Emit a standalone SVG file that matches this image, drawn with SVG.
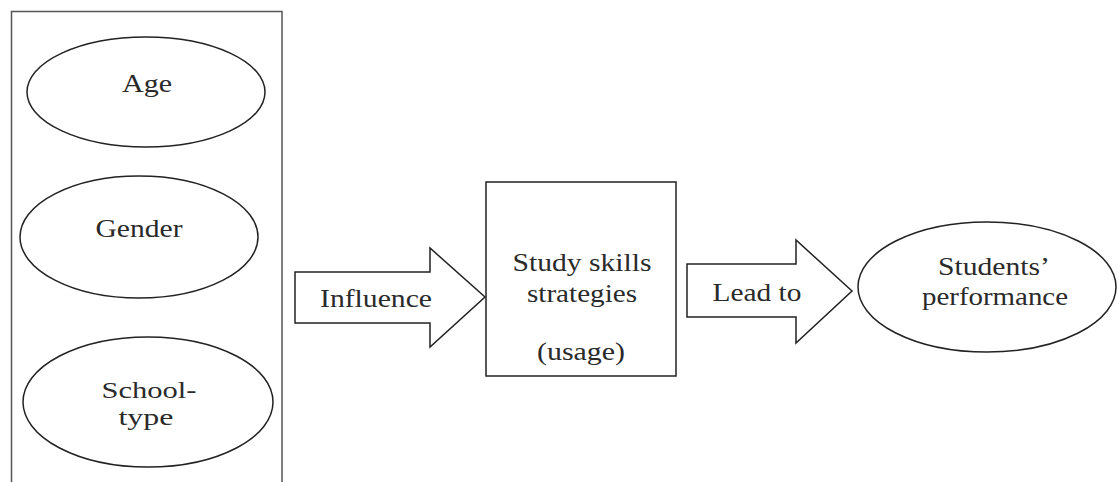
<svg xmlns="http://www.w3.org/2000/svg" width="1118" height="482" viewBox="0 0 1118 482">
<style>
.s{fill:#fff;stroke:#222;stroke-width:1.5}
.f{fill:none;stroke:#555;stroke-width:1.5}
text{font-family:"Liberation Serif","Times New Roman",serif;font-size:25px;fill:#2a2a2a;text-anchor:middle}
.sm{font-size:23px}
</style>
<rect width="1118" height="482" fill="#fff"/>
<g id="frame"><path class="f" d="M11.5,490 V11.5 H282 V490"/></g>
<g id="age"><ellipse class="s" cx="146" cy="92" rx="119" ry="55"/><text x="147" y="92" textLength="50" lengthAdjust="spacingAndGlyphs">Age</text></g>
<g id="gender"><ellipse class="s" cx="139" cy="237" rx="119" ry="61"/><text x="139" y="237" textLength="87" lengthAdjust="spacingAndGlyphs">Gender</text></g>
<g id="school"><ellipse class="s" cx="148" cy="402" rx="125" ry="65"/><text class="sm" x="149" y="398" textLength="95" lengthAdjust="spacingAndGlyphs">School-</text><text class="sm" x="146" y="425" textLength="55" lengthAdjust="spacingAndGlyphs">type</text></g>
<g id="study"><rect class="s" x="486" y="182" width="190" height="194"/><text x="582" y="271" textLength="139" lengthAdjust="spacingAndGlyphs">Study skills</text><text x="582" y="302" textLength="110" lengthAdjust="spacingAndGlyphs">strategies</text><text x="581" y="360" textLength="88" lengthAdjust="spacingAndGlyphs">(usage)</text></g>
<g id="perf"><ellipse class="s" cx="987" cy="287" rx="129" ry="65"/><text x="994" y="275" textLength="112" lengthAdjust="spacingAndGlyphs">Students’</text><text x="995" y="305" textLength="146" lengthAdjust="spacingAndGlyphs">performance</text></g>
<g id="connectors">
<g id="influence"><path class="s" d="M295,272 H430 V248 L485,297 L430,347 V323 H295 Z"/><text x="376" y="307" textLength="112" lengthAdjust="spacingAndGlyphs">Influence</text></g>
<g id="leadto"><path class="s" d="M687,264 H796 V240 L852,291 L796,343 V317 H687 Z"/><text x="757" y="301" textLength="89" lengthAdjust="spacingAndGlyphs">Lead to</text></g>
</g>
</svg>
